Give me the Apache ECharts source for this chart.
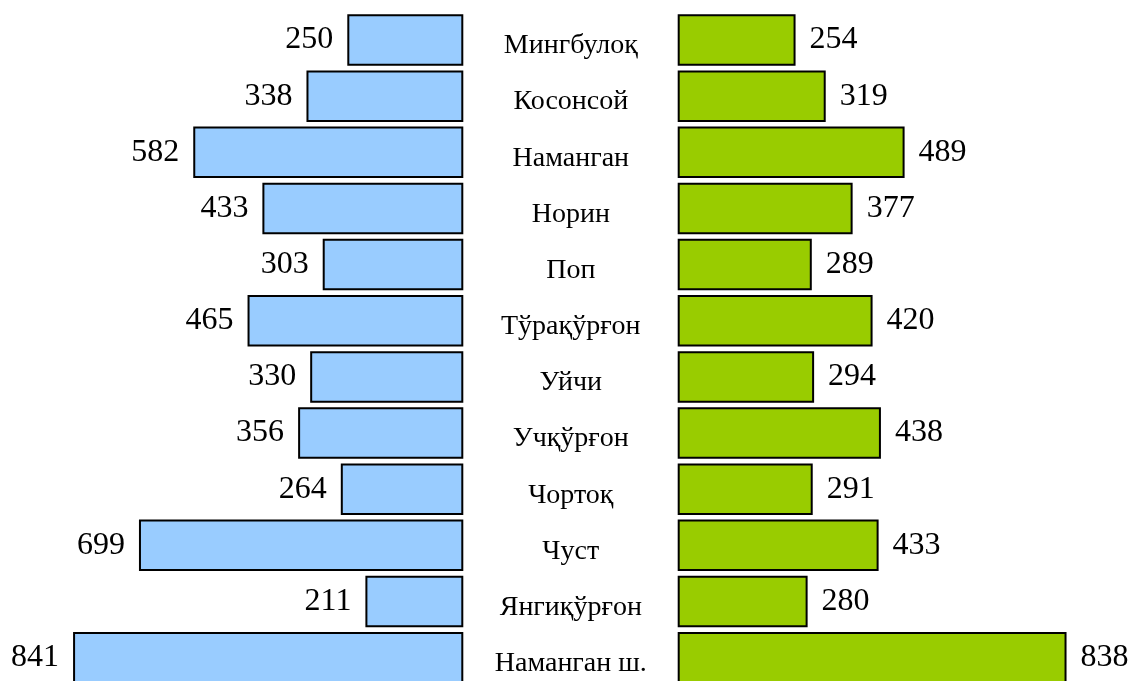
<!DOCTYPE html>
<html>
<head>
<meta charset="utf-8">
<script src="https://cdn.jsdelivr.net/npm/echarts@6/dist/echarts.min.js"></script>
<style>html,body{margin:0;padding:0;background:#fff;}#c{width:1133px;height:681px;}</style>
</head>
<body>
<div id="c"></div>
<script>
const categories = ['Мингбулоқ','Косонсой','Наманган','Норин','Поп','Тўрақўрғон','Уйчи','Учқўрғон','Чортоқ','Чуст','Янгиқўрғон','Наманган ш.'];
const leftValues = [250,338,582,433,303,465,330,356,264,699,211,841];
const rightValues = [254,319,489,377,289,420,294,438,291,433,280,838];

const font = 'Liberation Serif, Times New Roman, serif';
const chart = echarts.init(document.getElementById('c'));
const gTop = 11.9, gH = 673.8, axMax = 900, gW = 417.6;
chart.setOption({
  animation: false,
  backgroundColor: '#fff',
  grid: [
    {left: 463.3 - gW, top: gTop, width: gW, height: gH, outerBoundsMode: 'none', containLabel: false},
    {left: 677.7, top: gTop, width: gW, height: gH, outerBoundsMode: 'none', containLabel: false}
  ],
  xAxis: [
    {gridIndex: 0, type: 'value', inverse: true, min: 0, max: axMax, show: false},
    {gridIndex: 1, type: 'value', min: 0, max: axMax, show: false}
  ],
  yAxis: [
    {gridIndex: 0, type: 'category', data: categories, inverse: true, position: 'right',
     axisLine: {show: false}, axisTick: {show: false}, splitLine: {show: false},
     axisLabel: {margin: 107.5, align: 'center', fontFamily: font, fontSize: 28, color: '#000',
       formatter: v => '{a|' + v + '}', rich: {a: {fontFamily: font, fontSize: 28, color: '#000', padding: [12,0,0,0]}}}},
    {gridIndex: 1, type: 'category', data: categories, inverse: true, show: false}
  ],
  series: [
    {type: 'bar', xAxisIndex: 0, yAxisIndex: 0, data: leftValues, barWidth: 51.5,
     itemStyle: {color: '#99CCFF', borderColor: '#000', borderWidth: 2},
     label: {show: true, position: 'left', distance: 14, fontFamily: font, fontSize: 32, color: '#000'}},
    {type: 'bar', xAxisIndex: 1, yAxisIndex: 1, data: rightValues, barWidth: 51.5,
     itemStyle: {color: '#99CC00', borderColor: '#000', borderWidth: 2},
     label: {show: true, position: 'right', distance: 14, fontFamily: font, fontSize: 32, color: '#000'}}
  ]
});
</script>
</body>
</html>
